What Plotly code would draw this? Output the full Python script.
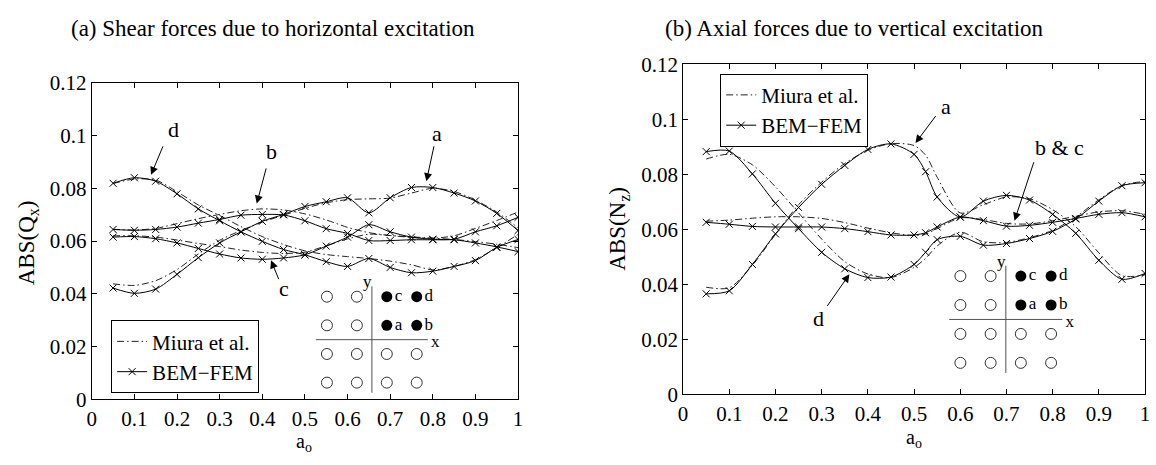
import plotly.graph_objects as go

# ---------------- data ----------------
x_left = [0.05, 0.10, 0.15, 0.20, 0.25, 0.30, 0.35, 0.40, 0.45, 0.50,
          0.55, 0.60, 0.65, 0.70, 0.75, 0.80, 0.85, 0.90, 0.95, 1.00]

bem_q_a = [0.0422, 0.0402, 0.0418, 0.0474, 0.0537, 0.0593, 0.0635, 0.0675, 0.0701, 0.0731,
           0.0749, 0.0764, 0.0707, 0.0764, 0.0803, 0.0803, 0.0782, 0.0752, 0.0705, 0.0640]
bem_q_b = [0.0644, 0.0641, 0.0644, 0.0653, 0.0668, 0.0682, 0.0698, 0.0701, 0.0699, 0.0677,
           0.0647, 0.0629, 0.0602, 0.0602, 0.0605, 0.0605, 0.0607, 0.0635, 0.0658, 0.0690]
bem_q_c = [0.0615, 0.0617, 0.0609, 0.0593, 0.0572, 0.0551, 0.0536, 0.0531, 0.0536, 0.0548,
           0.0581, 0.0615, 0.0662, 0.0635, 0.0615, 0.0607, 0.0605, 0.0593, 0.0578, 0.0560]
bem_q_d = [0.0819, 0.0840, 0.0827, 0.0779, 0.0722, 0.0677, 0.0635, 0.0599, 0.0568, 0.0548,
           0.0522, 0.0504, 0.0534, 0.0500, 0.0480, 0.0486, 0.0504, 0.0526, 0.0576, 0.0606]

miura_q_a = [0.0438, 0.0432, 0.0450, 0.0492, 0.0551, 0.0603, 0.0640, 0.0672, 0.0698, 0.0724,
             0.0745, 0.0757, 0.0760, 0.0763, 0.0782, 0.0800, 0.0788, 0.0755, 0.0710, 0.0650]
miura_q_b = [0.0645, 0.0642, 0.0648, 0.0666, 0.0685, 0.0701, 0.0715, 0.0722, 0.0718, 0.0703,
             0.0680, 0.0652, 0.0632, 0.0621, 0.0614, 0.0611, 0.0620, 0.0648, 0.0678, 0.0710]
miura_q_c = [0.0620, 0.0620, 0.0615, 0.0604, 0.0591, 0.0579, 0.0566, 0.0557, 0.0553, 0.0558,
             0.0582, 0.0608, 0.0626, 0.0621, 0.0616, 0.0611, 0.0606, 0.0598, 0.0588, 0.0575]
miura_q_d = [0.0818, 0.0835, 0.0831, 0.0787, 0.0737, 0.0697, 0.0655, 0.0617, 0.0587, 0.0563,
             0.0549, 0.0541, 0.0534, 0.0524, 0.0510, 0.0491, 0.0504, 0.0530, 0.0575, 0.0625]

x_right = [0.05, 0.10, 0.15, 0.20, 0.25, 0.30, 0.35, 0.40, 0.45, 0.50, 0.525,
           0.55, 0.60, 0.65, 0.70, 0.75, 0.80, 0.85, 0.90, 0.95, 1.00]

bem_n_a = [0.0366, 0.0377, 0.0473, 0.0584, 0.0680, 0.0764, 0.0833, 0.0891, 0.0911, 0.0873, 0.0810,
           0.0718, 0.0645, 0.0703, 0.0724, 0.0707, 0.0655, 0.0586, 0.0488, 0.0419, 0.0440]
bem_n_bc = [0.0626, 0.0619, 0.0611, 0.0609, 0.0609, 0.0609, 0.0603, 0.0592, 0.0580, 0.0580, 0.0588,
            0.0609, 0.0645, 0.0632, 0.0612, 0.0615, 0.0626, 0.0640, 0.0655, 0.0661, 0.0646]
bem_n_d = [0.0883, 0.0885, 0.0802, 0.0695, 0.0603, 0.0517, 0.0457, 0.0425, 0.0427, 0.0473, 0.0517,
           0.0563, 0.0575, 0.0543, 0.0549, 0.0567, 0.0593, 0.0638, 0.0703, 0.0759, 0.0770]

miura_n_a = [0.0390, 0.0388, 0.0470, 0.0582, 0.0690, 0.0772, 0.0840, 0.0888, 0.0912, 0.0905, 0.0870,
             0.0790, 0.0660, 0.0690, 0.0718, 0.0712, 0.0672, 0.0610, 0.0515, 0.0432, 0.0435]
miura_n_bc = [0.0630, 0.0634, 0.0641, 0.0646, 0.0646, 0.0640, 0.0625, 0.0605, 0.0588, 0.0578, 0.0583,
              0.0603, 0.0642, 0.0636, 0.0622, 0.0620, 0.0632, 0.0648, 0.0664, 0.0668, 0.0655]
miura_n_d = [0.0856, 0.0873, 0.0835, 0.0755, 0.0660, 0.0565, 0.0483, 0.0438, 0.0425, 0.0462, 0.0495,
             0.0540, 0.0590, 0.0555, 0.0553, 0.0570, 0.0597, 0.0645, 0.0708, 0.0760, 0.0775]

x_tick_vals = [0, 0.1, 0.2, 0.3, 0.4, 0.5, 0.6, 0.7, 0.8, 0.9, 1.0]
x_tick_text = ["0", "0.1", "0.2", "0.3", "0.4", "0.5", "0.6", "0.7", "0.8", "0.9", "1"]
y_tick_vals = [0, 0.02, 0.04, 0.06, 0.08, 0.10, 0.12]
y_tick_text = ["0", "0.02", "0.04", "0.06", "0.08", "0.1", "0.12"]

pile_cols = [-1.5, -0.5, 0.5, 1.5]
pile_rows = [1.5, 0.5, -0.5, -1.5]
loaded_piles = [(0.5, 1.5, "c"), (1.5, 1.5, "d"), (0.5, 0.5, "a"), (1.5, 0.5, "b")]

FONT = "Liberation Serif, Times New Roman, DejaVu Serif, serif"
MIURA_DASH = "7px,3px,1.5px,3px"

fig = go.Figure()


def add_panel(xs, miura, bem, xa, ya, legend_name):
    for i, ys in enumerate(miura):
        fig.add_trace(go.Scatter(
            x=xs, y=ys, mode="lines", name="Miura et al.",
            line=dict(color="#222222", width=1, dash=MIURA_DASH, shape="spline", smoothing=0.8),
            showlegend=(i == 0), legend=legend_name, xaxis=xa, yaxis=ya, hoverinfo="skip"))
    for i, ys in enumerate(bem):
        fig.add_trace(go.Scatter(
            x=xs, y=ys, mode="lines+markers", name="BEM\u2212FEM",
            line=dict(color="black", width=1, shape="spline", smoothing=0.8),
            marker=dict(symbol="x-thin", size=7, color="black", line=dict(width=1, color="black")),
            showlegend=(i == 0), legend=legend_name, xaxis=xa, yaxis=ya, hoverinfo="skip"))


add_panel(x_left, [miura_q_a, miura_q_b, miura_q_c, miura_q_d],
          [bem_q_a, bem_q_b, bem_q_c, bem_q_d], "x", "y", "legend")
add_panel(x_right, [miura_n_a, miura_n_bc, miura_n_d],
          [bem_n_a, bem_n_bc, bem_n_d], "x2", "y2", "legend2")


def add_inset(xa, ya):
    ox, oy = [], []
    for r in pile_rows:
        for c in pile_cols:
            if not any(abs(c - p[0]) < 1e-9 and abs(r - p[1]) < 1e-9 for p in loaded_piles):
                ox.append(c)
                oy.append(r)
    fig.add_trace(go.Scatter(x=[0, 0], y=[-1.85, 1.86], mode="lines",
                             line=dict(color="#8a8a8a", width=1.5), showlegend=False,
                             xaxis=xa, yaxis=ya, hoverinfo="skip"))
    fig.add_trace(go.Scatter(x=[-1.87, 1.87], y=[0, 0], mode="lines",
                             line=dict(color="#555555", width=1), showlegend=False,
                             xaxis=xa, yaxis=ya, hoverinfo="skip"))
    fig.add_trace(go.Scatter(x=ox, y=oy, mode="markers",
                             marker=dict(symbol="circle-open", size=11, color="#333333",
                                         line=dict(width=1)),
                             showlegend=False, xaxis=xa, yaxis=ya, hoverinfo="skip"))
    fig.add_trace(go.Scatter(x=[p[0] for p in loaded_piles], y=[p[1] for p in loaded_piles],
                             mode="markers+text", text=[p[2] for p in loaded_piles],
                             textposition="middle right",
                             textfont=dict(family=FONT, size=17, color="black"),
                             marker=dict(symbol="circle", size=11, color="black"),
                             showlegend=False, xaxis=xa, yaxis=ya, hoverinfo="skip"))
    fig.add_trace(go.Scatter(x=[-0.15, 2.12], y=[1.97, -0.12], mode="text", text=["y", "x"],
                             textfont=dict(family=FONT, size=17, color="black"),
                             showlegend=False, xaxis=xa, yaxis=ya, hoverinfo="skip"))


add_inset("x3", "y3")
add_inset("x4", "y4")

axis_common = dict(showline=True, mirror="allticks", ticks="inside", ticklen=5,
                   linecolor="black", linewidth=1, tickcolor="black", showgrid=False,
                   zeroline=False, tickfont=dict(family=FONT, size=21, color="black"))

inset_axis = dict(visible=False, range=[-2.5, 2.5], fixedrange=True)

fig.update_layout(
    width=1156, height=465,
    margin=dict(l=0, r=0, t=0, b=0),
    paper_bgcolor="white", plot_bgcolor="rgba(0,0,0,0)",
    font=dict(family=FONT, size=20, color="black"),
    xaxis=dict(domain=[0.0757, 0.4477], range=[0, 1], tickvals=x_tick_vals,
               ticktext=x_tick_text, anchor="y", **axis_common),
    yaxis=dict(domain=[0.1215, 0.8396], range=[0, 0.12], tickvals=y_tick_vals,
               ticktext=y_tick_text, anchor="x", **axis_common),
    xaxis2=dict(domain=[0.5917, 0.9948], range=[0, 1], tickvals=x_tick_vals,
                ticktext=x_tick_text, anchor="y2", **axis_common),
    yaxis2=dict(domain=[0.1327, 0.8811], range=[0, 0.12], tickvals=y_tick_vals,
                ticktext=y_tick_text, anchor="x2", **axis_common),
    xaxis3=dict(domain=[0.2548, 0.3854], anchor="y3", **inset_axis),
    yaxis3=dict(domain=[0.0946, 0.4194], anchor="x3", **inset_axis),
    xaxis4=dict(domain=[0.8073, 0.9392], anchor="y4", **inset_axis),
    yaxis4=dict(domain=[0.1388, 0.4668], anchor="x4", **inset_axis),
    legend=dict(x=0.0926, y=0.3011, xanchor="left", yanchor="top",
                bgcolor="white", bordercolor="black", borderwidth=1,
                font=dict(family=FONT, size=21, color="black")),
    legend2=dict(x=0.6241, y=0.8600, xanchor="left", yanchor="top",
                 bgcolor="white", bordercolor="black", borderwidth=1,
                 font=dict(family=FONT, size=21, color="black")),
)

annotations = []
# titles
annotations.append(dict(text="(a) Shear forces due to horizontal excitation", xref="paper", yref="paper",
                        x=270 / 1156, y=1 - 17 / 465, xanchor="center", yanchor="middle",
                        showarrow=False, font=dict(family=FONT, size=23)))
annotations.append(dict(text="(b) Axial forces due to vertical excitation", xref="paper", yref="paper",
                        x=857 / 1156, y=1 - 17 / 465, xanchor="center", yanchor="middle",
                        showarrow=False, font=dict(family=FONT, size=23)))
# axis labels
annotations.append(dict(text="ABS(Q<sub>x</sub>)", xref="paper", yref="paper",
                        x=24 / 1156, y=1 - 243 / 465, xanchor="center", yanchor="middle",
                        textangle=-90, showarrow=False, font=dict(family=FONT, size=23)))
annotations.append(dict(text="ABS(N<sub>z</sub>)", xref="paper", yref="paper",
                        x=620 / 1156, y=1 - 229 / 465, xanchor="center", yanchor="middle",
                        textangle=-90, showarrow=False, font=dict(family=FONT, size=23)))
annotations.append(dict(text="a<sub>o</sub>", xref="paper", yref="paper",
                        x=302 / 1156, y=1 - 454 / 465, xanchor="center", yanchor="middle",
                        showarrow=False, font=dict(family=FONT, size=20)))
annotations.append(dict(text="a<sub>o</sub>", xref="paper", yref="paper",
                        x=917 / 1156, y=1 - 450 / 465, xanchor="center", yanchor="middle",
                        showarrow=False, font=dict(family=FONT, size=20)))

# curve labels (text) in data coordinates
labels = [("d", 0.1907, 0.1022, "x", "y"), ("b", 0.4212, 0.0940, "x", "y"),
          ("a", 0.8098, 0.1009, "x", "y"), ("c", 0.4500, 0.0420, "x", "y"),
          ("a", 0.5697, 0.1046, "x2", "y2"), ("b &amp; c", 0.8140, 0.0897, "x2", "y2"),
          ("d", 0.2929, 0.0276, "x2", "y2")]
for t, lx, ly, xr, yr in labels:
    annotations.append(dict(text=t, x=lx, y=ly, xref=xr, yref=yr, showarrow=False,
                            xanchor="center", yanchor="middle",
                            font=dict(family=FONT, size=22)))

# arrows: (tip x, tip y, tail x, tail y)
arrows = [(0.139, 0.0851, 0.1686, 0.0965, "x", "y"),
          (0.387, 0.0742, 0.4100, 0.0881, "x", "y"),
          (0.785, 0.0827, 0.8035, 0.0965, "x", "y"),
          (0.4205, 0.0527, 0.4400, 0.0450, "x", "y"),
          (0.503, 0.0914, 0.5494, 0.1018, "x2", "y2"),
          (0.7174, 0.0632, 0.7603, 0.0850, "x2", "y2"),
          (0.360, 0.0437, 0.3097, 0.0316, "x2", "y2")]
for tx, ty, sx, sy, xr, yr in arrows:
    annotations.append(dict(text="", x=tx, y=ty, ax=sx, ay=sy, xref=xr, yref=yr,
                            axref=xr, ayref=yr, showarrow=True, arrowhead=2,
                            arrowsize=1.6, arrowwidth=1, arrowcolor="black",
                            standoff=0, startstandoff=0))

fig.update_layout(annotations=annotations)

fig.write_html("out.html")
